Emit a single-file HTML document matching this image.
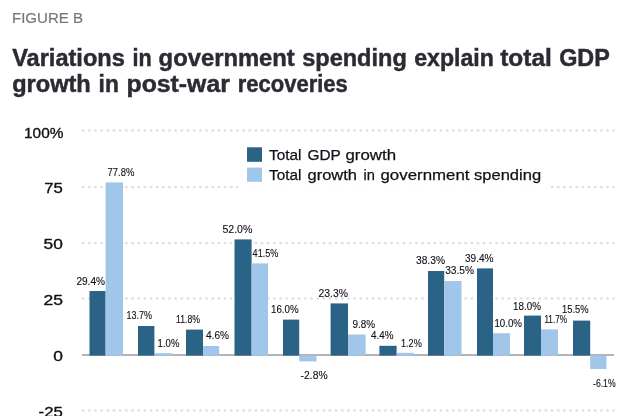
<!DOCTYPE html>
<html lang="en">
<head>
<meta charset="utf-8">
<title>Figure B</title>
<style>
html,body{margin:0;padding:0;background:#fff;}
body{width:625px;height:416px;overflow:hidden;position:relative;}
svg{position:absolute;left:0;top:0;display:block;}
text{font-family:"Liberation Sans",Arial,Helvetica,sans-serif;}
.t{font-weight:bold;font-size:23px;fill:#2b2b33;stroke:#2b2b33;stroke-width:0.45px;}
.f{font-size:15.4px;fill:#777777;stroke:#777777;stroke-width:0.2px;}
.y{font-size:15.4px;fill:#101018;stroke:#101018;stroke-width:0.35px;}
.l{font-size:15.4px;fill:#101018;stroke:#101018;stroke-width:0.25px;}
.d{font-size:10.4px;fill:#101018;stroke:#101018;stroke-width:0.12px;}
</style>
</head>
<body>
<svg width="625" height="416" viewBox="0 0 625 416">
<rect x="0" y="0" width="625" height="416" fill="#ffffff"/>
<text class="f" x="12.0" y="23.2" textLength="71.0" lengthAdjust="spacingAndGlyphs">FIGURE B</text>
<text class="t" y="65.5"><tspan x="12.2" textLength="112.6" lengthAdjust="spacingAndGlyphs">Variations</tspan> <tspan x="132.6" textLength="19.2" lengthAdjust="spacingAndGlyphs">in</tspan> <tspan x="158.6" textLength="136.2" lengthAdjust="spacingAndGlyphs">government</tspan> <tspan x="302.2" textLength="104.6" lengthAdjust="spacingAndGlyphs">spending</tspan> <tspan x="414.2" textLength="79.6" lengthAdjust="spacingAndGlyphs">explain</tspan> <tspan x="500.2" textLength="51.6" lengthAdjust="spacingAndGlyphs">total</tspan> <tspan x="559.2" textLength="50.6" lengthAdjust="spacingAndGlyphs">GDP</tspan></text>
<text class="t" y="91.9"><tspan x="12.2" textLength="78.6" lengthAdjust="spacingAndGlyphs">growth</tspan> <tspan x="98.6" textLength="20.2" lengthAdjust="spacingAndGlyphs">in</tspan> <tspan x="126.6" textLength="103.2" lengthAdjust="spacingAndGlyphs">post-war</tspan> <tspan x="237.8" textLength="110.0" lengthAdjust="spacingAndGlyphs">recoveries</tspan></text>
<line x1="82.85" y1="130.5" x2="614" y2="130.5" stroke="#dfdfdf" stroke-width="2.3" stroke-linecap="round" stroke-dasharray="0.6 5.57"/>
<line x1="82.85" y1="187.2" x2="614" y2="187.2" stroke="#dfdfdf" stroke-width="2.3" stroke-linecap="round" stroke-dasharray="0.6 5.57"/>
<line x1="82.85" y1="243.2" x2="614" y2="243.2" stroke="#dfdfdf" stroke-width="2.3" stroke-linecap="round" stroke-dasharray="0.6 5.57"/>
<line x1="82.85" y1="298.5" x2="614" y2="298.5" stroke="#dfdfdf" stroke-width="2.3" stroke-linecap="round" stroke-dasharray="0.6 5.57"/>
<line x1="82.85" y1="410.5" x2="614" y2="410.5" stroke="#dfdfdf" stroke-width="2.3" stroke-linecap="round" stroke-dasharray="0.6 5.57"/>
<text class="y" x="24.0" y="137.5" textLength="39.4" lengthAdjust="spacingAndGlyphs">100%</text>
<text class="y" x="44.3" y="193.3" textLength="18.6" lengthAdjust="spacingAndGlyphs">75</text>
<text class="y" x="43.6" y="249.1" textLength="19.3" lengthAdjust="spacingAndGlyphs">50</text>
<text class="y" x="43.4" y="305.0" textLength="19.5" lengthAdjust="spacingAndGlyphs">25</text>
<text class="y" x="53.2" y="360.8" textLength="9.7" lengthAdjust="spacingAndGlyphs">0</text>
<text class="y" x="38.6" y="416.6" textLength="24.3" lengthAdjust="spacingAndGlyphs">-25</text>
<rect x="238" y="140" width="309" height="50" fill="#ffffff" fill-opacity="0.88"/>
<rect x="247" y="147.3" width="15" height="14.5" fill="#2a6386"/>
<rect x="247" y="167.6" width="15" height="14.2" fill="#a0c6e9"/>
<text class="l" y="160.4"><tspan x="269.1" textLength="32.4" lengthAdjust="spacingAndGlyphs">Total</tspan> <tspan x="307.5" textLength="33.0" lengthAdjust="spacingAndGlyphs">GDP</tspan> <tspan x="345.5" textLength="50.6" lengthAdjust="spacingAndGlyphs">growth</tspan></text>
<text class="l" y="180.3"><tspan x="269.1" textLength="32.4" lengthAdjust="spacingAndGlyphs">Total</tspan> <tspan x="307.5" textLength="49.4" lengthAdjust="spacingAndGlyphs">growth</tspan> <tspan x="363.5" textLength="11.4" lengthAdjust="spacingAndGlyphs">in</tspan> <tspan x="380.5" textLength="89.0" lengthAdjust="spacingAndGlyphs">government</tspan> <tspan x="474.0" textLength="67.1" lengthAdjust="spacingAndGlyphs">spending</tspan></text>
<line x1="82" y1="354.9" x2="614" y2="354.9" stroke="#9a9a9a" stroke-width="1.5"/>
<rect x="89.5" y="291.0" width="16.1" height="64.6" fill="#2a6386"/>
<rect x="105.6" y="182.4" width="17.4" height="173.2" fill="#a0c6e9"/>
<rect x="138.0" y="326.0" width="16.4" height="29.6" fill="#2a6386"/>
<rect x="154.4" y="353.2" width="17.6" height="2.4" fill="#a0c6e9"/>
<rect x="186.0" y="329.6" width="17.0" height="26.0" fill="#2a6386"/>
<rect x="203.0" y="346.0" width="16.2" height="9.6" fill="#a0c6e9"/>
<rect x="234.5" y="239.4" width="17.1" height="116.2" fill="#2a6386"/>
<rect x="251.6" y="263.4" width="16.4" height="92.2" fill="#a0c6e9"/>
<rect x="283.0" y="319.6" width="16.2" height="36.0" fill="#2a6386"/>
<rect x="299.2" y="355.6" width="17.3" height="5.8" fill="#a0c6e9"/>
<rect x="330.6" y="303.4" width="17.4" height="52.2" fill="#2a6386"/>
<rect x="348.0" y="334.5" width="17.6" height="21.1" fill="#a0c6e9"/>
<rect x="379.4" y="345.8" width="17.2" height="9.8" fill="#2a6386"/>
<rect x="396.6" y="352.8" width="17.4" height="2.8" fill="#a0c6e9"/>
<rect x="428.0" y="271.0" width="16.2" height="84.6" fill="#2a6386"/>
<rect x="444.2" y="281.0" width="17.3" height="74.6" fill="#a0c6e9"/>
<rect x="477.0" y="268.4" width="16.0" height="87.2" fill="#2a6386"/>
<rect x="493.0" y="333.2" width="17.0" height="22.4" fill="#a0c6e9"/>
<rect x="524.0" y="315.6" width="17.0" height="40.0" fill="#2a6386"/>
<rect x="541.0" y="329.4" width="17.0" height="26.2" fill="#a0c6e9"/>
<rect x="573.0" y="320.6" width="17.2" height="35.0" fill="#2a6386"/>
<rect x="590.2" y="355.6" width="16.2" height="13.4" fill="#a0c6e9"/>
<text class="d" x="76.4" y="285.2" textLength="28.6" lengthAdjust="spacingAndGlyphs">29.4%</text>
<text class="d" x="107.5" y="175.8" textLength="26.8" lengthAdjust="spacingAndGlyphs">77.8%</text>
<text class="d" x="126.6" y="318.6" textLength="25.4" lengthAdjust="spacingAndGlyphs">13.7%</text>
<text class="d" x="157.6" y="346.6" textLength="21.8" lengthAdjust="spacingAndGlyphs">1.0%</text>
<text class="d" x="176.0" y="322.6" textLength="24.0" lengthAdjust="spacingAndGlyphs">11.8%</text>
<text class="d" x="206.0" y="339.0" textLength="23.0" lengthAdjust="spacingAndGlyphs">4.6%</text>
<text class="d" x="222.4" y="233.0" textLength="30.0" lengthAdjust="spacingAndGlyphs">52.0%</text>
<text class="d" x="252.6" y="256.6" textLength="25.8" lengthAdjust="spacingAndGlyphs">41.5%</text>
<text class="d" x="271.0" y="312.6" textLength="27.6" lengthAdjust="spacingAndGlyphs">16.0%</text>
<text class="d" x="300.6" y="378.6" textLength="27.0" lengthAdjust="spacingAndGlyphs">-2.8%</text>
<text class="d" x="318.6" y="296.6" textLength="29.4" lengthAdjust="spacingAndGlyphs">23.3%</text>
<text class="d" x="352.4" y="327.6" textLength="22.6" lengthAdjust="spacingAndGlyphs">9.8%</text>
<text class="d" x="371.0" y="338.6" textLength="22.4" lengthAdjust="spacingAndGlyphs">4.4%</text>
<text class="d" x="401.0" y="346.9" textLength="20.8" lengthAdjust="spacingAndGlyphs">1.2%</text>
<text class="d" x="416.0" y="264.4" textLength="29.0" lengthAdjust="spacingAndGlyphs">38.3%</text>
<text class="d" x="445.2" y="274.4" textLength="28.8" lengthAdjust="spacingAndGlyphs">33.5%</text>
<text class="d" x="465.0" y="261.6" textLength="28.4" lengthAdjust="spacingAndGlyphs">39.4%</text>
<text class="d" x="494.4" y="327.0" textLength="27.6" lengthAdjust="spacingAndGlyphs">10.0%</text>
<text class="d" x="513.0" y="310.0" textLength="28.0" lengthAdjust="spacingAndGlyphs">18.0%</text>
<text class="d" x="544.4" y="322.6" textLength="22.6" lengthAdjust="spacingAndGlyphs">11.7%</text>
<text class="d" x="562.0" y="313.4" textLength="26.6" lengthAdjust="spacingAndGlyphs">15.5%</text>
<text class="d" x="593.0" y="387.0" textLength="22.6" lengthAdjust="spacingAndGlyphs">-6.1%</text>
</svg>
</body>
</html>
